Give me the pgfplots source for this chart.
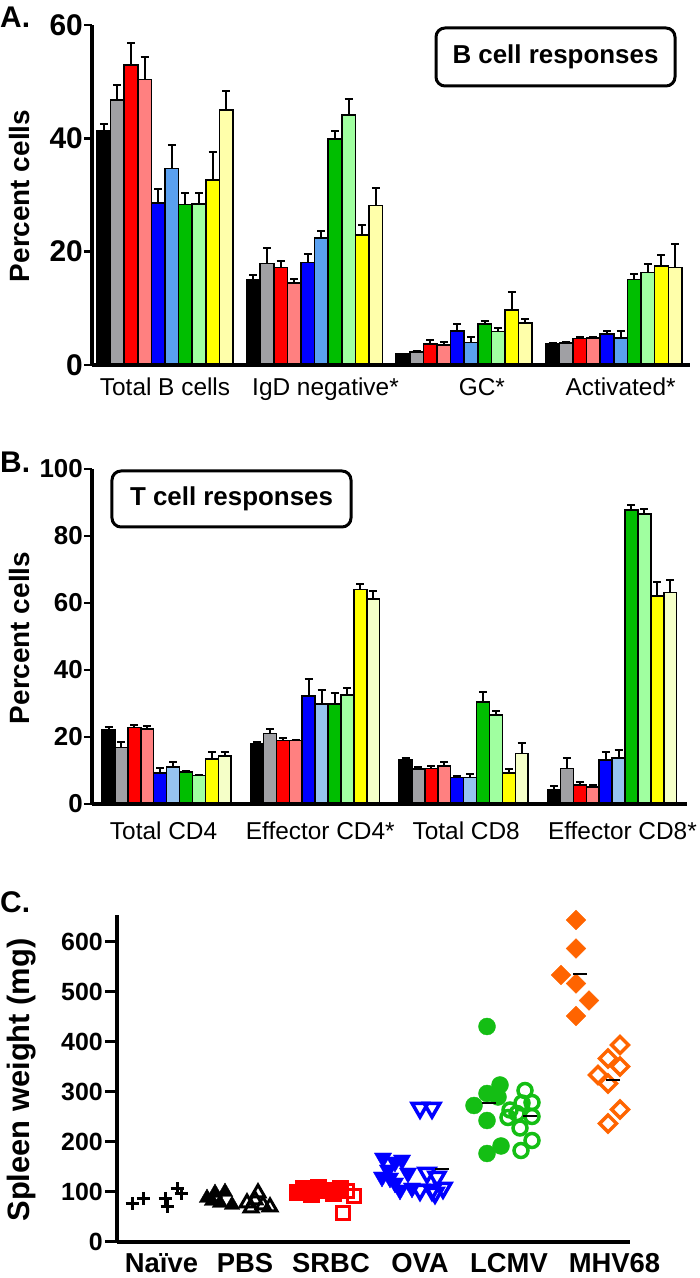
\documentclass[border=0pt]{standalone}
\usepackage{fontspec}
\setmainfont{Liberation Sans}
\usepackage{pgfplots}
\pgfplotsset{compat=1.18}
\usepackage{pgfplotstable}

\definecolor{cA0}{RGB}{0,0,0}
\definecolor{cA1}{RGB}{160,160,164}
\definecolor{cA2}{RGB}{255,0,0}
\definecolor{cA3}{RGB}{255,128,128}
\definecolor{cA4}{RGB}{0,0,255}
\definecolor{cA5}{RGB}{90,160,240}
\definecolor{cA6}{RGB}{0,190,0}
\definecolor{cA7}{RGB}{160,255,160}
\definecolor{cA8}{RGB}{255,255,0}
\definecolor{cA9}{RGB}{255,255,170}
\definecolor{cB0}{RGB}{0,0,0}
\definecolor{cB1}{RGB}{160,160,164}
\definecolor{cB2}{RGB}{255,0,0}
\definecolor{cB3}{RGB}{255,128,128}
\definecolor{cB4}{RGB}{0,0,255}
\definecolor{cB5}{RGB}{150,195,240}
\definecolor{cB6}{RGB}{0,190,0}
\definecolor{cB7}{RGB}{160,255,160}
\definecolor{cB8}{RGB}{255,255,0}
\definecolor{cB9}{RGB}{245,255,200}
\definecolor{cgreen}{RGB}{20,190,20}
\definecolor{corange}{RGB}{255,100,0}

% Panel A: rows = groups (Total B, IgD neg, GC, Activated); v = mean, e = SEM
\pgfplotstableread{
g v0 e0 v1 e1 v2 e2 v3 e3 v4 e4 v5 e5 v6 e6 v7 e7 v8 e8 v9 e9
0 41.3 1.2 46.8 2.6 52.9 4.0 50.4 3.9 28.6 2.5 34.7 4.2 28.3 2.1 28.4 1.9 32.6 5.0 45.0 3.4
1 15.1 0.7 17.9 2.8 17.2 1.2 14.5 0.7 18.1 1.4 22.4 1.3 39.9 1.4 44.1 2.9 22.9 1.8 28.1 3.1
2 1.9 0.1 2.3 0.2 3.7 0.7 3.5 0.5 6.0 1.2 4.0 0.9 7.2 0.6 5.9 0.6 9.7 3.2 7.4 0.8
3 3.7 0.1 3.9 0.2 4.7 0.2 4.8 0.2 5.5 0.5 4.8 1.2 15.1 0.9 16.3 1.6 17.5 1.9 17.2 4.2
}\tA

% Panel B: rows = groups (Total CD4, Effector CD4, Total CD8, Effector CD8)
\pgfplotstableread{
g v0 e0 v1 e1 v2 e2 v3 e3 v4 e4 v5 e5 v6 e6 v7 e7 v8 e8 v9 e9
0 22.3 0.8 16.8 1.6 22.8 0.8 22.4 0.9 9.2 1.5 11.1 1.5 9.6 0.3 8.5 0.3 13.4 2.0 14.4 1.2
1 17.9 0.7 21.1 1.3 18.9 0.7 18.9 0.2 32.2 5.1 29.9 4.1 29.9 3.1 32.6 1.9 64.1 1.5 61.2 2.4
2 13.3 0.3 10.4 0.7 10.6 0.7 11.4 1.2 7.9 0.6 7.9 1.1 30.5 2.8 26.5 1.4 9.2 1.3 15.1 3.0
3 4.4 1.1 10.6 3.2 5.7 0.8 5.0 0.7 13.1 2.5 13.8 2.3 87.8 1.5 86.5 1.5 62.1 4.3 63.1 3.8
}\tB

\pgfplotsset{
  panel/.style={
    scale only axis, clip=false, axis on top,
    axis lines*=left,
    axis line style={line width=3.5bp,-},
    tick align=outside,
    major tick length=8bp,
    ytick style={line width=2.5bp,black},
    xtick style={draw=none},
  },
  errs/.style={
    error bars/.cd, y dir=plus, y explicit,
    error bar style={line width=2bp,black},
    error mark options={rotate=90,line width=2bp,black,mark size=4bp},
  },
}

\begin{document}
\begin{tikzpicture}[x=1bp,y=1bp]
\useasboundingbox (0,0) rectangle (700,1278);

% ---------------- Panel A ----------------
\begin{axis}[panel,
  at={(92bp,913bp)}, anchor=south west,
  width=598bp, height=340bp,
  xmin=-0.87, xmax=43.1, ymin=0, ymax=60,
  ytick={0,20,40,60}, yticklabels={0,20,40,60},
  yticklabel style={font=\bfseries\fontsize{30}{30}\selectfont, inner sep=1bp},
  xtick={4.5,16.3,27.8,38.0},
  xticklabels={Total B cells, IgD negative*, GC*, Activated*},
  xticklabel style={font=\fontsize{24.5}{24.5}\selectfont, inner sep=0pt, yshift=-5bp},
]
\pgfplotsinvokeforeach{0,...,9}{
  \addplot[ybar, bar width=1, bar shift=0pt, fill=cA#1, draw=black, line width=1.5bp, errs]
    table[x expr=\thisrow{g}*11+#1, y=v#1, y error=e#1] {\tA};
}
\end{axis}

% ---------------- Panel B ----------------
\begin{axis}[panel,
  at={(92bp,474bp)}, anchor=south west,
  width=595bp, height=335bp,
  xmin=-1.28, xmax=44.8, ymin=0, ymax=100,
  ytick={0,20,40,60,80,100}, yticklabels={0,20,40,60,80,100},
  yticklabel style={font=\bfseries\fontsize{26}{26}\selectfont, inner sep=1bp},
  xtick={4.26,16.4,27.7,39.8},
  xticklabels={Total CD4, Effector CD4*, Total CD8, Effector CD8*},
  xticklabel style={font=\fontsize{24.5}{24.5}\selectfont, inner sep=0pt, yshift=-10bp},
]
\pgfplotsinvokeforeach{0,...,9}{
  \addplot[ybar, bar width=1, bar shift=0pt, fill=cB#1, draw=black, line width=1.5bp, errs]
    table[x expr=\thisrow{g}*11.5+#1, y=v#1, y error=e#1] {\tB};
}
\end{axis}

% ---------------- Panel C ----------------
\begin{axis}[panel,
  at={(117bp,36bp)}, anchor=south west,
  width=513bp, height=327bp,
  axis line style={line width=4bp,-},
  major tick length=12bp,
  ytick style={line width=3bp,black},
  xmin=117, xmax=630, ymin=0, ymax=654,
  ytick={0,100,200,300,400,500,600}, yticklabels={0,100,200,300,400,500,600},
  yticklabel style={font=\bfseries\fontsize{25}{25}\selectfont, inner sep=2bp},
  xtick={161.5,245,331,420,509,614.5},
  xticklabels={Naïve, PBS, SRBC, OVA, LCMV, MHV68},
  xticklabel style={font=\bfseries\fontsize{27.5}{27.5}\selectfont, inner sep=0pt, yshift=1bp},
]
% Naive
\addplot[only marks, mark=+, mark size=6.5bp, mark options={line width=3bp, draw=black}]
  coordinates {(132,76) (143,87) (165,86) (167,70) (177,106) (181,97)};
% PBS
\addplot[only marks, mark=triangle*, mark size=9bp, mark options={fill=black, draw=black}]
  coordinates {(207,88) (215,98) (225,100) (220,78) (232,74) (212,82)};
\addplot[only marks, mark=triangle, mark size=8bp, mark options={line width=3bp, draw=black, fill=white}]
  coordinates {(247,78) (255,84) (258,98) (263,74) (270,70) (251,68)};
% SRBC
\addplot[only marks, mark=square*, mark size=8bp, mark options={fill=red, draw=red}]
  coordinates {(297,100) (303,108) (311,96) (318,110) (326,104) (333,98) (340,108)};
\addplot[only marks, mark=square, mark size=6.5bp, mark options={line width=3.5bp, draw=red, fill=white}]
  coordinates {(347,102) (354,92) (343,58)};
% OVA
\addplot[only marks, mark=triangle*, mark size=10bp, mark options={rotate=180, fill=blue, draw=blue}]
  coordinates {(383,168) (395,160) (402,164) (382,130) (390,128) (395,118) (400,104) (408,138) (412,108) (388,144)};
\addplot[only marks, mark=triangle, mark size=9bp, mark options={rotate=180, line width=3.5bp, draw=blue, fill=white}]
  coordinates {(420,104) (427,138) (432,104) (437,130) (443,108) (435,98) (420,268) (432,268)};
% LCMV
\addplot[only marks, mark=*, mark size=8.5bp, mark options={fill=cgreen, draw=cgreen}]
  coordinates {(487,431) (500,314) (487,297) (474,273) (487,243) (487,177) (501,192) (498,290)};
\addplot[only marks, mark=o, mark size=7bp, mark options={line width=3.5bp, draw=cgreen, fill=white}]
  coordinates {(525,303) (532,279) (522,278) (510,264) (517,257) (532,251) (508,249) (520,228) (532,203) (521,183)};
% MHV68
\addplot[only marks, mark=square*, mark size=7bp, mark options={rotate=45, fill=corange, draw=corange}]
  coordinates {(576,644) (576,587) (561,534) (576,517) (589,483) (576,452)};
\addplot[only marks, mark=square, mark size=6bp, mark options={rotate=45, line width=3.5bp, draw=corange, fill=white}]
  coordinates {(620,394) (608,367) (620,351) (598,334) (608,317) (620,265) (608,237)};
% group means
\addplot[only marks, mark=-, mark size=7bp, mark options={line width=2bp, draw=black}]
  coordinates {(442,146) (489,278) (530,251) (580,535) (613,323)};
\end{axis}

% ---------------- annotations ----------------
\node[font=\bfseries\fontsize{30}{30}\selectfont, anchor=west, inner sep=0pt] at (0,1261) {A.};
\node[font=\bfseries\fontsize{30}{30}\selectfont, anchor=west, inner sep=0pt] at (0,816) {B.};
\node[font=\bfseries\fontsize{30}{30}\selectfont, anchor=west, inner sep=0pt] at (0,376) {C.};

\node[font=\bfseries\fontsize{28}{28}\selectfont, rotate=90, inner sep=0pt] at (20,1082) {Percent cells};
\node[font=\bfseries\fontsize{28}{28}\selectfont, rotate=90, inner sep=0pt] at (20,640) {Percent cells};
\node[font=\bfseries\fontsize{31}{31}\selectfont, rotate=90, inner sep=0pt] at (22,198) {Spleen weight (mg)};

\node[draw, line width=3bp, rounded corners=9bp, minimum width=239bp, minimum height=58bp,
      font=\bfseries\fontsize{26}{26}\selectfont] at (555.5,1221) {B cell responses};
\node[draw, line width=3bp, rounded corners=9bp, minimum width=239bp, minimum height=56bp,
      font=\bfseries\fontsize{26}{26}\selectfont] at (231.5,779) {T cell responses};
\end{tikzpicture}
\end{document}
